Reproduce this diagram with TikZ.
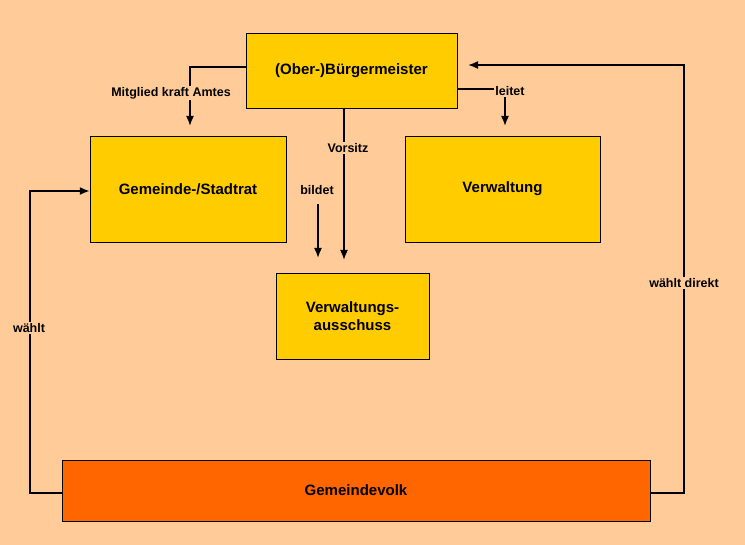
\documentclass[tikz,border=0pt]{standalone}
\usepackage{fontspec}
\setmainfont{Liberation Sans}
\usetikzlibrary{positioning, arrows.meta}
\definecolor{bgorange}{HTML}{FFCC99}
\definecolor{boxyellow}{HTML}{FFCC00}
\definecolor{volkorange}{HTML}{FF6600}
\tikzset{
  box/.style={draw, fill=boxyellow, font=\bfseries\fontsize{15}{18}\selectfont, align=center, inner sep=0pt},
  lbl/.style={fill=bgorange, font=\bfseries\fontsize{12.5}{15}\selectfont, inner sep=1.5pt},
  arr/.style={-{Latex[length=10pt,width=8pt]}, line width=1.6pt}
}
\begin{document}
\begin{tikzpicture}[x=1pt, y=-1pt]
    % background
    \fill[bgorange] (0,0) rectangle (745,545);
    \useasboundingbox (0,0) rectangle (745,545);

    % --- boxes ---
    \node (bm) [box, minimum width=211pt, minimum height=75pt] at (351.5,70.5) {(Ober-)Bürgermeister};
    \node (rat) [box, minimum width=196pt, minimum height=106pt] at (188,189) {Gemeinde-/Stadtrat};
    \node (verw) [box, minimum width=195pt, minimum height=106pt] at (502.5,189) {Verwaltung};
    \node (aus) [box, minimum width=153pt, minimum height=86pt] at (352.5,316) {Verwaltungs-\\ausschuss};
    \node (volk) [box, fill=volkorange, minimum width=588pt, minimum height=61pt] at (356,490.5) {Gemeindevolk};

    % helper points
    \coordinate (mka) at (190,67);
    \coordinate (lt) at (505,89);
    \coordinate (bs) at (318,204);
    \coordinate (wl) at (30,493);
    \coordinate (wr) at (684,493);

    % --- connectors ---
    \draw[arr] (bm.west |- mka) -| (190,126);
    \draw[arr] (bm.east |- lt) -| (505,126);
    \draw[arr] (344,108) -- (344,260);
    \draw[arr] (bs) -- (318,258);
    \draw[arr] (volk.west |- wl) -| (30,191) -- (rat.west |- 0,191);
    \draw[arr] (volk.east |- wr) -| (684,65) -- (468,65);

    % --- labels ---
    \node [lbl] at (171,93) {Mitglied kraft Amtes};
    \node [lbl] at (510,91) {leitet};
    \node [lbl] at (348,148) {Vorsitz};
    \node [lbl] at (317,190) {bildet};
    \node [lbl] at (29,328) {wählt};
    \node [lbl] at (684,283) {wählt direkt};
\end{tikzpicture}
\end{document}
